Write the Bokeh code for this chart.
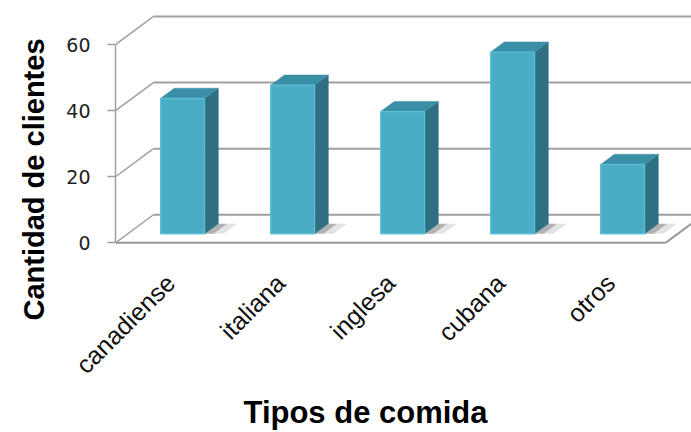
import numpy as np
from math import pi
from bokeh.plotting import figure
from bokeh.models import Range1d, LinearAxis, FixedTicker, Title
from bokeh.embed import file_html
from bokeh.resources import INLINE

# ---- data ----
categories = ["canadiense", "italiana", "inglesa", "cubana", "otros"]
clientes = [41, 45, 37, 55, 21]
y_ticks = [0, 20, 40, 60]
x_title = "Tipos de comida"
y_title = "Cantidad de clientes"

# ---- style / projection constants ----
DX = 0.345      # horizontal shift (category units) per unit of depth
DY = 8.5        # vertical shift (value units) per unit of depth
Z0, Z1 = 0.32, 0.68
HALF = 0.2
FRONT = "#4bacc6"
SIDE = "#2f6f82"
TOPC = "#3a8ea6"
GRID = "#a0a0a0"

W, H = 691, 432
LEFT, TOP, BOTTOM = 115, 10, 188
PX_CAT = 110.0
PX_VAL = 3.305
n = len(categories)
x0 = -0.5
x1 = x0 + (W - LEFT) / PX_CAT
y0 = -0.5
y1 = y0 + (H - TOP - BOTTOM) / PX_VAL

p = figure(width=W, height=H, x_range=Range1d(x0, x1), y_range=Range1d(y0, y1),
           x_axis_location=None, y_axis_location=None,
           min_border_left=LEFT, min_border_right=0, min_border_top=TOP,
           min_border_bottom=BOTTOM, toolbar_location=None, output_backend="svg",
           outline_line_color=None, background_fill_color="white")
p.xgrid.visible = False
p.ygrid.visible = False

xr = x0 + n  # right end of floor front edge
tv = np.array(y_ticks, float)

# back wall gridlines
p.segment(x0=[x0 + DX] * len(tv), y0=tv + DY, x1=[xr + DX] * len(tv), y1=tv + DY,
          line_color=GRID, line_width=2)
# left wall diagonals
p.segment(x0=[x0] * len(tv), y0=tv, x1=[x0 + DX] * len(tv), y1=tv + DY,
          line_color=GRID, line_width=1.5)
# floor front and right edges
p.segment(x0=[x0, xr], y0=[0, 0], x1=[xr, xr + DX], y1=[0, DY],
          line_color="#999999", line_width=2)

# bars
idx = np.arange(n)
vals = np.array(clientes, float)
fl = idx - HALF + Z0 * DX
fr = idx + HALF + Z0 * DX
fb = Z0 * DY
ft = vals + Z0 * DY
d = Z1 - Z0

# floor shadows
sh_ys = [[fb, fb, fb + d * DY, fb + d * DY] for _ in fr]
sh_xs = [[r, r + 0.17, r + 0.17 + d * DX, r + d * DX] for r in fr]
p.patches(sh_xs, sh_ys, fill_color="#808080", fill_alpha=0.22, line_color=None)
sh2_xs = [[r, r + 0.08, r + 0.08 + d * DX, r + d * DX] for r in fr]
p.patches(sh2_xs, sh_ys, fill_color="#555555", fill_alpha=0.35, line_color=None)

side_xs = [[r, r + d * DX, r + d * DX, r] for r in fr]
side_ys = [[fb, fb + d * DY, t + d * DY, t] for t in ft]
p.patches(side_xs, side_ys, fill_color=SIDE, line_color=SIDE, line_width=0.5)

top_xs = [[l, r, r + d * DX, l + d * DX] for l, r in zip(fl, fr)]
top_ys = [[t, t, t + d * DY, t + d * DY] for t in ft]
p.patches(top_xs, top_ys, fill_color=TOPC, line_color=TOPC, line_width=0.5)

p.quad(left=fl, right=fr, bottom=fb, top=ft, fill_color=FRONT, line_color="#5cc0d9",
       line_width=1.2)

# y axis (front-left edge) with ticks
yax = LinearAxis(ticker=FixedTicker(ticks=y_ticks), bounds=(0, 60),
                 axis_line_color=GRID, axis_line_width=1.5,
                 major_tick_line_color=GRID, major_tick_line_width=1.5,
                 major_tick_out=8, major_tick_in=0, minor_tick_line_color=None,
                 major_label_text_font="DejaVu Sans", major_label_text_font_size="19px",
                 major_label_text_color="#222222", major_label_standoff=17)
p.add_layout(yax, "left")

# category axis
xax = LinearAxis(ticker=FixedTicker(ticks=list(range(n))),
                 major_label_overrides={i: c for i, c in enumerate(categories)},
                 major_label_orientation=pi / 4, axis_line_color=None,
                 major_tick_line_color=None, minor_tick_line_color=None,
                 major_tick_out=0, major_tick_in=0,
                 major_label_text_font="Liberation Sans",
                 major_label_text_font_size="25px", major_label_text_color="#111111",
                 major_label_standoff=34)
p.add_layout(xax, "below")

# axis titles
p.add_layout(Title(text=x_title, align="left", offset=128, standoff=2,
                   text_font="Liberation Sans", text_font_style="bold",
                   text_font_size="31px", text_color="#000000"), "below")
p.add_layout(Title(text=y_title, align="left", offset=-76, standoff=28,
                   text_font="Liberation Sans", text_font_style="bold",
                   text_font_size="29px", text_color="#000000"), "left")

open("out.html", "w").write(file_html(p, INLINE))
